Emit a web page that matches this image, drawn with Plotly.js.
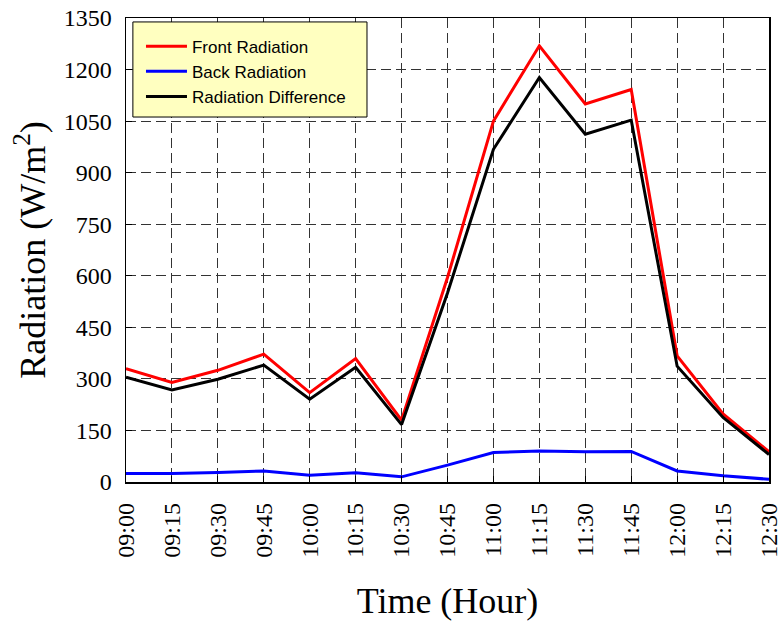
<!DOCTYPE html>
<html>
<head>
<meta charset="utf-8">
<script src="https://cdn.plot.ly/plotly-3.0.1.min.js"></script>
<style>html,body{margin:0;padding:0;background:#fff;}#chart{width:782px;height:621px;}</style>
</head>
<body>
<div id="chart"></div>
<script>
const times = ["09:00","09:15","09:30","09:45","10:00","10:15","10:30","10:45","11:00","11:15","11:30","11:45","12:00","12:15","12:30"];
const frontRadiation = [330, 290, 325, 372, 260, 359, 180, 595, 1050, 1269, 1100, 1142, 367, 198, 88];
const backRadiation = [25, 25, 28, 32, 20, 27, 15, 49, 86, 90, 88, 89, 32, 18, 8];
const radiationDifference = [305, 268, 299, 340, 241, 334, 167, 550, 968, 1177, 1012, 1053, 337, 188, 80];
const yTicks = [0, 150, 300, 450, 600, 750, 900, 1050, 1200, 1350];

const traces = [
  {x: times, y: frontRadiation, name: "Front Radiation", type: "scatter", mode: "lines",
   line: {color: "#ff0000", width: 3}, legendgroup: "a"},
  {x: times, y: backRadiation, name: "Back Radiation", type: "scatter", mode: "lines",
   line: {color: "#0000ff", width: 3}, legendgroup: "b"},
  {x: times, y: radiationDifference, name: "Radiation Difference", type: "scatter", mode: "lines",
   line: {color: "#000000", width: 3}, legendgroup: "c"}
];

const serif = "Liberation Serif, Times New Roman, serif";
const layout = {
  width: 782, height: 621,
  margin: {l: 126, r: 13, t: 18, b: 139},
  paper_bgcolor: "#ffffff", plot_bgcolor: "#ffffff",
  showlegend: true,
  legend: {
    x: 0.0233, y: 0.977, xanchor: "left", yanchor: "top",
    bgcolor: "rgba(0,0,0,0)", borderwidth: 0,
    font: {family: "Liberation Sans, Arial, sans-serif", size: 17, color: "#000"},
    itemwidth: 41, tracegroupgap: 0
  },
  shapes: [{type: "rect", xref: "paper", yref: "paper", x0: 0.0107, x1: 0.3748, y0: 0.7866, y1: 0.9915,
            fillcolor: "#ffffc0", line: {color: "#000", width: 1}, layer: "above"}],
  xaxis: {
    type: "category", range: [0, 14],
    tickangle: -90,
    tickfont: {family: serif, size: 24, color: "#000"},
    ticklabelstandoff: 10,
    showgrid: true, gridcolor: "#333", gridwidth: 1, griddash: "10px,5px",
    showline: true, linecolor: "#000", linewidth: 1.5, mirror: true,
    ticks: "inside", ticklen: 6, tickcolor: "#000",
    title: {text: "Time (Hour)", font: {family: serif, size: 36, color: "#000"}, standoff: 32},
    zeroline: false
  },
  yaxis: {
    range: [0, 1350], tickvals: yTicks, ticktext: yTicks.map(String),
    tickfont: {family: serif, size: 24, color: "#000"},
    ticklabelstandoff: 8,
    showgrid: true, gridcolor: "#333", gridwidth: 1, griddash: "10px,5px",
    showline: true, linecolor: "#000", linewidth: 1.5, mirror: true,
    ticks: "inside", ticklen: 6, tickcolor: "#000",
    title: {text: "Radiation (W/m<sup>2</sup>)", font: {family: serif, size: 36, color: "#000"}, standoff: 7},
    zeroline: false
  }
};

Plotly.newPlot("chart", traces, layout, {displayModeBar: false, staticPlot: true});
</script>
</body>
</html>
